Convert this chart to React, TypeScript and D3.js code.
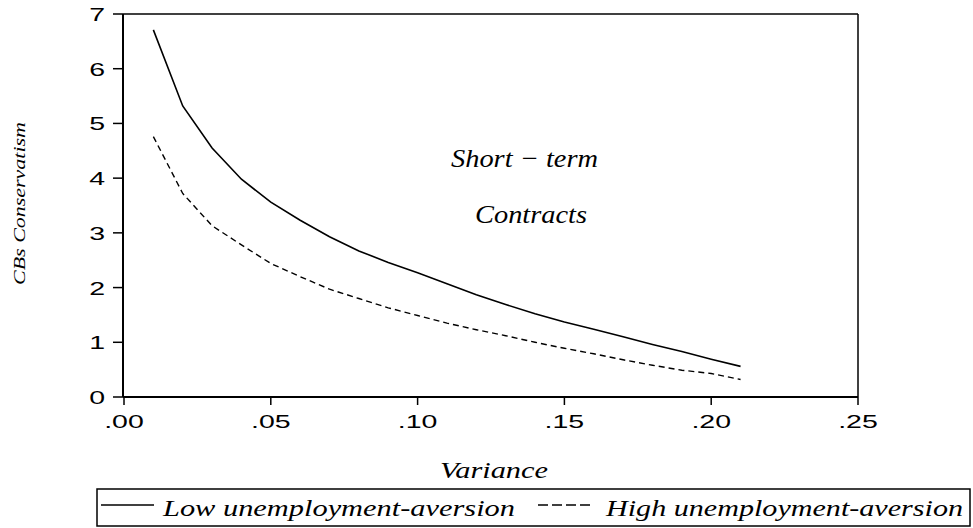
import React from "react";
import * as d3 from "d3";

const variance = [0.01,0.02,0.03,0.04,0.05,0.06,0.07,0.08,0.09,0.10,0.11,0.12,0.13,0.14,0.15,0.16,0.17,0.18,0.19,0.20,0.21];
const lowAversion = [6.71,5.32,4.55,3.98,3.56,3.23,2.93,2.67,2.46,2.27,2.07,1.87,1.69,1.52,1.37,1.24,1.10,0.96,0.83,0.69,0.56];
const highAversion = [4.76,3.72,3.13,2.78,2.44,2.2,1.97,1.80,1.63,1.49,1.35,1.23,1.12,1.0,0.89,0.79,0.68,0.58,0.49,0.43,0.32];
const xTicks = [0, 0.05, 0.1, 0.15, 0.2, 0.25];
const xTickLabels = [".00", ".05", ".10", ".15", ".20", ".25"];
const yTicks = [0, 1, 2, 3, 4, 5, 6, 7];

export default function App() {
  const left = 123, right = 858, top = 14, bottom = 397;
  const x = d3.scaleLinear().domain([0, 0.25]).range([left + 1, right]);
  const y = d3.scaleLinear().domain([0, 7]).range([bottom, top]);
  const line = d3.line<number>().x((_, i) => x(variance[i])).y((d) => y(d));
  const sans = "Liberation Sans";
  const serif = "Liberation Serif";
  return (
    <svg width={973} height={528} style={{ position: "absolute", left: 0, top: 0, background: "#fff" }}>
      <rect x={0} y={0} width={973} height={528} fill="#fff" />
      <line x1={left} y1={top} x2={right} y2={top} stroke="#000" strokeWidth={1.5} />
      <line x1={right} y1={top} x2={right} y2={bottom} stroke="#000" strokeWidth={1.5} />
      <line x1={left} y1={top} x2={left} y2={bottom} stroke="#000" strokeWidth={2} />
      <line x1={left} y1={bottom} x2={right} y2={bottom} stroke="#000" strokeWidth={2} />
      {yTicks.map((t) => (
        <g key={"y" + t}>
          <line x1={left - 10} x2={left} y1={y(t)} y2={y(t)} stroke="#000" strokeWidth={1.5} />
          <g transform={`translate(105,${y(t) + 7}) scale(1.5,1)`}>
            <text x={0} y={0} textAnchor="end" fontFamily={sans} fontSize={19}>{t}</text>
          </g>
        </g>
      ))}
      {xTicks.map((t, i) => (
        <g key={"x" + t}>
          <line x1={x(t)} x2={x(t)} y1={bottom} y2={bottom + 8} stroke="#000" strokeWidth={1.5} />
          <g transform={`translate(${x(t)},428) scale(1.5,1)`}>
            <text x={0} y={0} textAnchor="middle" fontFamily={sans} fontSize={19}>{xTickLabels[i]}</text>
          </g>
        </g>
      ))}
      <path d={line(lowAversion) || ""} fill="none" stroke="#000" strokeWidth={1.6} />
      <path d={line(highAversion) || ""} fill="none" stroke="#000" strokeWidth={1.4} strokeDasharray="6,4" />
      <text x={451} y={167} fontFamily={serif} fontStyle="italic" fontSize={26} textLength={147} lengthAdjust="spacingAndGlyphs">Short − term</text>
      <text x={475} y={223} fontFamily={serif} fontStyle="italic" fontSize={25} textLength={112} lengthAdjust="spacingAndGlyphs">Contracts</text>
      <text transform="translate(25,285) rotate(-90)" fontFamily={serif} fontStyle="italic" fontSize={17} textLength={163} lengthAdjust="spacingAndGlyphs">CBs Conservatism</text>
      <text x={440} y={478} fontFamily={serif} fontStyle="italic" fontSize={23} textLength={108} lengthAdjust="spacingAndGlyphs">Variance</text>
      <rect x={97} y={489} width={873} height={37} fill="none" stroke="#000" strokeWidth={1.5} />
      <line x1={101} x2={154} y1={505} y2={505} stroke="#000" strokeWidth={1.5} />
      <text x={163} y={516} fontFamily={serif} fontStyle="italic" fontSize={23} textLength={352} lengthAdjust="spacingAndGlyphs">Low unemployment-aversion</text>
      <line x1={538} x2={590} y1={505} y2={505} stroke="#000" strokeWidth={1.5} strokeDasharray="10,4" />
      <text x={606} y={516} fontFamily={serif} fontStyle="italic" fontSize={23} textLength={357} lengthAdjust="spacingAndGlyphs">High unemployment-aversion</text>
    </svg>
  );
}
